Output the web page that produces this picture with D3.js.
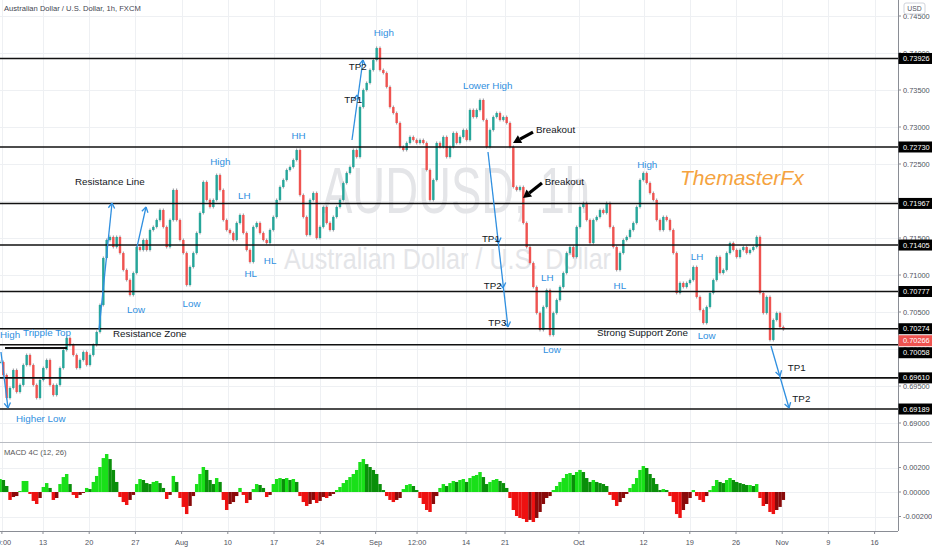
<!DOCTYPE html>
<html><head><meta charset="utf-8">
<script src="https://cdn.jsdelivr.net/npm/d3@7"></script>
<style>body{margin:0;background:#fff}svg{display:block}</style>
</head><body><svg id="c" width="932" height="550"></svg>
<script>
// ---- data ----
const closes = [
0.69824,0.69649,0.69338,0.69473,0.69716,0.69419,0.69514,0.69784,0.69919,0.69784,
0.69514,0.69338,0.69581,0.69743,0.69851,0.69514,0.69378,0.69514,0.69743,0.69986,
0.70149,0.70054,0.69919,0.69743,0.69851,0.69959,0.69784,0.69919,0.70054,0.70230,
0.70595,0.71230,0.71473,0.71514,0.71378,0.71514,0.71297,0.71068,0.70932,0.70730,
0.71027,0.71378,0.71338,0.71473,0.71338,0.71608,0.71649,0.71743,0.71878,0.71649,
0.71378,0.71743,0.72149,0.71743,0.71473,0.71297,0.70865,0.71108,0.71297,0.71568,
0.71838,0.72257,0.72014,0.71919,0.72014,0.72351,0.72149,0.71743,0.71608,0.71568,
0.71473,0.71703,0.71811,0.71568,0.71338,0.71176,0.71649,0.71703,0.71568,0.71473,
0.71432,0.71608,0.71784,0.72014,0.72189,0.72284,0.72419,0.72459,0.72554,0.72689,
0.72081,0.71784,0.71541,0.72014,0.72108,0.71500,0.71649,0.71919,0.71703,0.71608,
0.71784,0.71919,0.72014,0.72243,0.72378,0.72459,0.72689,0.72595,0.73270,0.73500,
0.73595,0.73770,0.73905,0.74068,0.73770,0.73730,0.73541,0.73270,0.73189,0.73054,
0.72730,0.72689,0.72784,0.72865,0.72824,0.72784,0.72824,0.72784,0.72419,0.72014,
0.72284,0.72784,0.72730,0.72865,0.72595,0.72730,0.72919,0.72784,0.72865,0.72959,
0.72824,0.73230,0.73135,0.73230,0.73365,0.73095,0.72730,0.72959,0.73135,0.73189,
0.73095,0.73135,0.73054,0.72730,0.72189,0.72149,0.72189,0.71703,0.71378,0.71162,
0.70838,0.70486,0.70257,0.70568,0.70797,0.70189,0.70486,0.70662,0.70838,0.71027,
0.71297,0.71378,0.71243,0.71649,0.71919,0.71973,0.71743,0.71432,0.71743,0.71784,
0.71878,0.71838,0.71973,0.71649,0.71378,0.71068,0.71297,0.71473,0.71514,0.71608,
0.71703,0.71919,0.72284,0.72378,0.72243,0.72108,0.72014,0.71743,0.71608,0.71784,
0.71743,0.71608,0.71297,0.70757,0.70892,0.70838,0.70892,0.70932,0.71108,0.70703,
0.70527,0.70351,0.70568,0.70757,0.70932,0.71243,0.71027,0.71068,0.71297,0.71432,
0.71338,0.71243,0.71338,0.71378,0.71297,0.71338,0.71378,0.71514,0.70757,0.70486,
0.70703,0.70122,0.70392,0.70486,0.70297,0.70266];

const macdHist = [
0.00106,0.00098,0.00049,-0.00065,-0.00041,-0.00033,0.00008,0.00090,0.00090,-0.00016,
-0.00073,-0.00098,-0.00049,0.00041,0.00073,0.00033,-0.00065,-0.00049,0.00065,0.00122,
0.00147,0.00065,-0.00024,-0.00049,-0.00024,-0.00008,0.00033,0.00024,0.00082,0.00131,
0.00204,0.00277,0.00310,0.00269,0.00180,0.00082,-0.00041,-0.00082,-0.00106,-0.00065,
-0.00024,0.00065,0.00106,0.00098,0.00073,0.00065,0.00082,0.00090,0.00073,0.00033,
-0.00057,-0.00024,0.00131,0.00082,-0.00049,-0.00122,-0.00180,-0.00114,-0.00033,0.00065,
0.00147,0.00204,0.00180,0.00098,0.00065,0.00114,0.00082,-0.00065,-0.00147,-0.00098,
-0.00082,-0.00033,0.00033,-0.00024,-0.00090,-0.00065,0.00024,0.00065,0.00057,0.00033,
-0.00041,-0.00024,0.00065,0.00106,0.00114,0.00106,0.00114,0.00098,0.00106,0.00082,
-0.00033,-0.00082,-0.00114,-0.00098,-0.00065,-0.00090,-0.00073,-0.00041,-0.00049,-0.00033,
-0.00016,0.00016,0.00041,0.00073,0.00098,0.00122,0.00147,0.00180,0.00245,0.00269,
0.00228,0.00204,0.00180,0.00147,0.00065,0.00016,-0.00033,-0.00065,-0.00082,-0.00065,
-0.00049,0.00024,0.00057,0.00065,0.00049,0.00016,-0.00049,-0.00098,-0.00147,-0.00163,
-0.00098,-0.00033,0.00033,0.00065,0.00049,0.00073,0.00090,0.00082,0.00098,0.00106,
0.00082,0.00114,0.00131,0.00139,0.00163,0.00122,0.00065,0.00082,0.00098,0.00106,
0.00090,0.00073,0.00033,-0.00049,-0.00147,-0.00196,-0.00212,-0.00220,-0.00245,-0.00228,
-0.00245,-0.00212,-0.00163,-0.00098,-0.00049,-0.00033,0.00016,0.00049,0.00082,0.00114,
0.00147,0.00155,0.00139,0.00163,0.00180,0.00163,0.00114,0.00082,0.00098,0.00082,
0.00073,0.00065,0.00049,-0.00024,-0.00065,-0.00114,-0.00082,-0.00049,-0.00016,0.00033,
0.00065,0.00114,0.00180,0.00212,0.00196,0.00147,0.00114,0.00065,0.00016,0.00024,
0.00016,-0.00033,-0.00082,-0.00180,-0.00212,-0.00147,-0.00098,-0.00049,0.00016,-0.00033,
-0.00065,-0.00082,-0.00033,0.00016,0.00049,0.00098,0.00082,0.00073,0.00098,0.00114,
0.00098,0.00082,0.00073,0.00065,0.00057,0.00057,0.00049,0.00065,-0.00049,-0.00114,
-0.00098,-0.00163,-0.00180,-0.00147,-0.00122,-0.00065];

// time: trading days counted from Mon Jul 13
const firstDay = -4.654, stepDays = 0.36075;
const timeLabels = ["20:00","13","20","27","Aug","10","17","24","Sep","12:00","14","21","Oct","12","19","26","Nov","9","16"];
const timeDays   = [-4.45,0,5,10,15,20,25,30,36,40.48,45.78,50,58,65,70,75,80,85,90];

const priceTicks = [0.745,0.740,0.735,0.730,0.725,0.720,0.715,0.710,0.705,0.700,0.695,0.690];
const levels = [0.73926,0.72730,0.71967,0.71405,0.70777,0.70274,0.70058,0.69610,0.69189];
const lastPrice = 0.70266;
const macdTicks = [0.002,0,-0.002];

const title = "Australian Dollar / U.S. Dollar, 1h, FXCM";
const macdTitle = "MACD 4C (12, 26)";

// annotations: [text, day, price, kind]
const notes = [
["High",-4.65,0.70189,"b"],["Tripple Top",-2.16,0.70216,"b"],["Higher Low",-2.92,0.69054,"b"],
["Resistance Line",3.46,0.72257,"k"],["Resistance Zone",7.58,0.70203,"k"],
["Low",9.09,0.70527,"b"],["Low",15.1,0.70608,"b"],["High",18.1,0.72527,"b"],
["LH",21.1,0.72068,"b"],["HL",21.8,0.71014,"b"],["HL",23.9,0.71189,"b"],["HH",26.9,0.72878,"b"],
["High",35.8,0.74270,"b"],["TP2",33.1,0.73811,"k"],["TP1",32.6,0.73365,"k"],
["Lower High",45.45,0.73554,"b"],["Breakout",53.35,0.72959,"k"],["Breakout",54.3,0.72257,"k"],
["TP1",47.5,0.71486,"k"],["TP2",47.7,0.70851,"k"],["TP3",48.2,0.70351,"k"],
["LH",53.9,0.70959,"b"],["Low",54.1,0.69986,"b"],["HL",61.75,0.70851,"b"],["High",64.3,0.72486,"b"],
["LH",70.1,0.71243,"b"],["Low",70.85,0.70176,"b"],["Strong Support Zone",59.96,0.70216,"k"],
["TP1",80.6,0.69743,"k"],["TP2",81.1,0.69324,"k"]];

// blue target arrows: from, to, chevron points  ([day, price])
const targetArrows = [
{from:[-4.55,0.69959], to:[-3.79,0.69203], heads:[[-3.79,0.69203]]},
{from:[6.06,0.70257], to:[7.47,0.71973], heads:[[7.47,0.71973]]},
{from:[10.17,0.71378], to:[11.15,0.71919], heads:[[11.15,0.71919]]},
{from:[33.44,0.72824], to:[34.63,0.73905], heads:[[34.0,0.73432],[34.63,0.73905]]},
{from:[48.16,0.72662], to:[50.32,0.70297], heads:[[49.3,0.71432],[49.8,0.70824],[50.32,0.70297]]},
{from:[78.79,0.70041], to:[80.74,0.69203], heads:[[79.76,0.69635],[80.74,0.69203]]}];
const breakoutArrows = [
{from:[53.03,0.72932], to:[50.87,0.72784]},
{from:[54.0,0.72243], to:[51.95,0.72041]}];
const trippleTopLine = {from:-4.11, to:2.6, price:0.70014};

// ---- drawing ----
const svg = d3.select("#c");
const R = 898, MB = 442, BB = 531;
const NARROW = "'Liberation Sans Narrow','Liberation Sans',Arial,sans-serif";
const x = d3.scaleLinear().domain([0,90]).range([43,874.6]);
const y = d3.scaleLinear().domain([0.69,0.745]).range([423,16]);
const ym = d3.scaleLinear().domain([-0.002,0.002]).range([516.5,467.5]);
const dayOf = i => firstDay + i*stepDays;

svg.append("rect").attr("width",932).attr("height",550).attr("fill","#fff");
const defs = svg.append("defs");
defs.append("clipPath").attr("id","cm").append("rect").attr("x",0).attr("y",0).attr("width",R).attr("height",MB);
defs.append("clipPath").attr("id","cd").append("rect").attr("x",0).attr("y",MB).attr("width",R).attr("height",BB-MB);

// grid
const grid = svg.append("g").attr("stroke","#eef0f3").attr("stroke-width",1);
timeDays.forEach(d=>{const px=Math.round(x(d))+0.5; if(px>0&&px<R) grid.append("line").attr("x1",px).attr("x2",px).attr("y1",0).attr("y2",BB);});
priceTicks.forEach(p=>{const py=Math.round(y(p))+0.5; if(py<MB) grid.append("line").attr("x1",0).attr("x2",R).attr("y1",py).attr("y2",py);});
macdTicks.forEach(v=>{const py=Math.round(ym(v))+0.5; grid.append("line").attr("x1",0).attr("x2",R).attr("y1",py).attr("y2",py);});

// watermark
const main = svg.append("g").attr("clip-path","url(#cm)");
main.append("text").attr("x",322).attr("y",213).attr("font-family","'Liberation Sans',Arial,sans-serif")
  .attr("font-size",64).attr("textLength",268).attr("lengthAdjust","spacingAndGlyphs").attr("fill","#e4e5e8").text("AUDUSD, 1h");
main.append("text").attr("x",284).attr("y",269).attr("font-family","'Liberation Sans',Arial,sans-serif")
  .attr("font-size",29).attr("textLength",327).attr("lengthAdjust","spacingAndGlyphs").attr("fill","#e4e5e8").text("Australian Dollar / U.S. Dollar");

// candles
const candles = closes.map((c,i)=>({i, o: i? closes[i-1] : c, c}));
main.append("g").selectAll("line").data(candles).join("line")
  .attr("x1",d=>x(dayOf(d.i))).attr("x2",d=>x(dayOf(d.i)))
  .attr("y1",d=>y(Math.max(d.o,d.c))-1.5).attr("y2",d=>y(Math.min(d.o,d.c))+1.5)
  .attr("stroke","#7b7e86").attr("stroke-width",0.8);
main.append("g").selectAll("rect").data(candles).join("rect")
  .attr("x",d=>x(dayOf(d.i))-1.2).attr("width",2.4)
  .attr("y",d=>y(Math.max(d.o,d.c))).attr("height",d=>Math.max(1,Math.abs(y(d.o)-y(d.c))))
  .attr("fill",d=>d.c>=d.o?"#26a69a":"#ef5350");

// level lines
main.append("g").selectAll("line").data(levels).join("line")
  .attr("x1",0).attr("x2",R).attr("y1",d=>y(d)).attr("y2",d=>y(d)).attr("stroke","#111").attr("stroke-width",1.6);
main.append("line").attr("x1",x(trippleTopLine.from)).attr("x2",x(trippleTopLine.to))
  .attr("y1",y(trippleTopLine.price)).attr("y2",y(trippleTopLine.price)).attr("stroke","#111").attr("stroke-width",2);

// blue arrows
const BLUE = "#2f8fe0";
targetArrows.forEach(a=>{
  const x1=x(a.from[0]), y1=y(a.from[1]), x2=x(a.to[0]), y2=y(a.to[1]);
  main.append("line").attr("x1",x1).attr("y1",y1).attr("x2",x2).attr("y2",y2).attr("stroke",BLUE).attr("stroke-width",1.3);
  const ang = Math.atan2(y2-y1,x2-x1);
  a.heads.forEach(h=>{
    const hx=x(h[0]), hy=y(h[1]), L=6;
    [ang+Math.PI-0.55, ang+Math.PI+0.55].forEach(t=>{
      main.append("line").attr("x1",hx).attr("y1",hy).attr("x2",hx+L*Math.cos(t)).attr("y2",hy+L*Math.sin(t))
        .attr("stroke",BLUE).attr("stroke-width",1.3);
    });
  });
});
// black breakout arrows
breakoutArrows.forEach(a=>{
  const x1=x(a.from[0]), y1=y(a.from[1]), x2=x(a.to[0]), y2=y(a.to[1]);
  const ang=Math.atan2(y2-y1,x2-x1), L=8;
  const bx=x2-L*Math.cos(ang), by=y2-L*Math.sin(ang);
  main.append("line").attr("x1",x1).attr("y1",y1).attr("x2",bx).attr("y2",by).attr("stroke","#000").attr("stroke-width",3.2);
  const p=[[x2,y2],[bx+4.5*Math.cos(ang+Math.PI/2),by+4.5*Math.sin(ang+Math.PI/2)],[bx-4.5*Math.cos(ang+Math.PI/2),by-4.5*Math.sin(ang+Math.PI/2)]];
  main.append("polygon").attr("points",p.map(q=>q.join(",")).join(" ")).attr("fill","#000");
});

// annotation texts
main.append("g").selectAll("text").data(notes).join("text")
  .attr("x",d=>x(d[1])).attr("y",d=>y(d[2])).attr("dy","0.35em")
  .attr("font-family",NARROW).attr("font-size",9.8)
  .attr("fill",d=>d[3]==="b"?BLUE:"#131722").text(d=>d[0]);

main.append("text").attr("x",680).attr("y",185).attr("font-family","'Liberation Sans',Arial,sans-serif")
  .attr("font-style","italic").attr("font-size",21).attr("fill","#f5a340").text("ThemasterFx");

// title
svg.append("text").attr("x",4).attr("y",11).attr("font-family",NARROW).attr("font-size",7.6).attr("fill","#434651").text(title);

// MACD pane
const md = svg.append("g").attr("clip-path","url(#cd)");
const mcol = (v,i)=>{const p=i?macdHist[i-1]:v; return v>=0 ? (v>=p?"#19e019":"#0a8f0a") : (v<=p?"#ee1111":"#8a0a0a");};
md.append("g").selectAll("rect").data(macdHist).join("rect")
  .attr("x",(v,i)=>x(dayOf(i))-1.7).attr("width",3.45)
  .attr("y",v=>Math.min(ym(v),ym(0))).attr("height",v=>Math.abs(ym(v)-ym(0)))
  .attr("fill",(v,i)=>mcol(v,i));
svg.append("text").attr("x",4).attr("y",455).attr("font-family",NARROW).attr("font-size",7.6).attr("fill","#555").text(macdTitle);

// separators and axes
svg.append("line").attr("x1",0).attr("x2",932).attr("y1",MB+0.5).attr("y2",MB+0.5).attr("stroke","#b8bbc2");
svg.append("line").attr("x1",0).attr("x2",R).attr("y1",BB+0.5).attr("y2",BB+0.5).attr("stroke","#8a8d95");
svg.append("line").attr("x1",R+0.5).attr("x2",R+0.5).attr("y1",0).attr("y2",BB).attr("stroke","#8a8d95");

const ax = svg.append("g").attr("font-family",NARROW).attr("font-size",7.4).attr("fill","#50535e");
priceTicks.forEach(p=>{const py=y(p); if(py<MB-4){
  ax.append("line").attr("x1",R).attr("x2",R+3).attr("y1",py).attr("y2",py).attr("stroke","#8a8d95");
  ax.append("text").attr("x",R+5).attr("y",py).attr("dy","0.35em").text(p.toFixed(5));}});
macdTicks.forEach(v=>{const py=ym(v);
  ax.append("line").attr("x1",R).attr("x2",R+3).attr("y1",py).attr("y2",py).attr("stroke","#8a8d95");
  ax.append("text").attr("x",R+5).attr("y",py).attr("dy","0.35em").text(v.toFixed(5));});
timeLabels.forEach((t,k)=>{const px=x(timeDays[k]);
  ax.append("line").attr("x1",px).attr("x2",px).attr("y1",BB).attr("y2",BB+3).attr("stroke","#8a8d95");
  ax.append("text").attr("x",px).attr("y",542).attr("dy","0.35em").attr("text-anchor","middle").text(t);});

// price labels with collision push
const lbls = levels.map(v=>({v,c:"#000"})).concat([{v:lastPrice,c:"#ef5350"}]);
lbls.forEach(l=>l.py=y(l.v));
lbls.sort((a,b)=>a.py-b.py || (a.c==="#000"?-1:1));
for(let k=1;k<lbls.length;k++){ if(lbls[k].py<lbls[k-1].py+12) lbls[k].py=lbls[k-1].py+12; }
lbls.forEach(l=>{
  svg.append("rect").attr("x",R+0.5).attr("y",l.py-5.5).attr("width",932-R).attr("height",11).attr("fill",l.c);
  svg.append("text").attr("x",R+5).attr("y",l.py).attr("dy","0.35em").attr("font-family",NARROW).attr("font-size",7.4)
    .attr("fill","#fff").text(l.v.toFixed(5));
});
// USD badge
svg.append("rect").attr("x",904).attr("y",3).attr("width",21).attr("height",11).attr("rx",2).attr("fill","#fff").attr("stroke","#d0d3da");
svg.append("text").attr("x",914.5).attr("y",8.5).attr("dy","0.35em").attr("text-anchor","middle").attr("font-family",NARROW)
  .attr("font-size",6.8).attr("fill","#50535e").text("USD");
</script></body></html>
